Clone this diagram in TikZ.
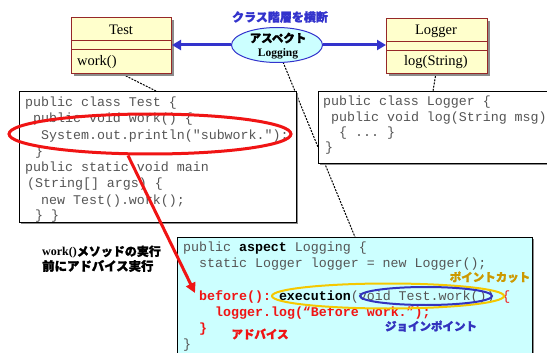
\documentclass[tikz,border=0pt]{standalone}
\usepackage{fontspec}
\setmainfont{Liberation Serif}
\setmonofont{Liberation Mono}
\newfontfamily\jp{Noto Sans CJK JP}[BoldFeatures={FakeBold=1.6}]
\usetikzlibrary{arrows.meta,shapes.geometric}

\definecolor{umlred}{RGB}{150,40,40}
\definecolor{umlfill}{RGB}{255,255,204}
\definecolor{aspblue}{RGB}{51,51,204}
\definecolor{aspfill}{RGB}{204,255,255}
\definecolor{codered}{RGB}{240,20,20}
\definecolor{codegray}{RGB}{85,85,85}
\definecolor{pcyellow}{RGB}{245,200,0}
\definecolor{pcgold}{RGB}{204,153,0}
\definecolor{jpblue}{RGB}{51,51,190}

\begin{document}
\begin{tikzpicture}[x=1pt,y=-1pt,
  umlbox/.style={draw=umlred, fill=umlfill, line width=1pt, inner sep=0pt, anchor=north west},
  umltext/.style={font=\fontsize{14.5}{16}\selectfont, text=black, inner sep=0pt},
  boxshadow/.style={fill=black!45},
  codebox/.style={draw=black, fill=white, line width=0.8pt, inner sep=0pt, anchor=north west},
  codeline/.style={anchor=west, inner sep=0pt, font=\ttfamily\fontsize{13.3}{16}\selectfont, text=codegray},
  jplabel/.style={inner sep=0pt, font=\jp\bfseries\fontsize{11.5}{13}\selectfont},
  link/.style={black, line width=1pt, dash pattern=on 2pt off 1.2pt},
  crosscut/.style={aspblue, line width=3pt, -{Triangle[length=9pt,width=10pt]}},
]
\useasboundingbox (0,0) rectangle (547,353);

% anchor points of the dashed links
\coordinate (workpt) at (120,73);
\coordinate (testtop) at (156,91);
\coordinate (logpt) at (436,73);
\coordinate (loggertop) at (433,91);
\coordinate (asppt) at (283,62);
\coordinate (aspcodetop) at (355,237);

% dashed links (drawn first, the boxes cover their ends)
\draw[link] (workpt) -- (testtop);
\draw[link] (logpt) -- (loggertop);
\draw[link] (asppt) -- (aspcodetop);

% ---- class Test (UML)
\fill[boxshadow] (74,20) rectangle (174,76);
\node[umlbox, minimum width=100pt, minimum height=56pt] (testcls) at (71,17) {};
\draw[umlred, line width=1pt] (71,41) -- (171,41) (71,50) -- (171,50);
\node[umltext] (testname) at (121,30) {Test};
\node[umltext, anchor=west] (testwork) at (77,62) {work()};

% ---- class Logger (UML)
\fill[boxshadow] (389,21) rectangle (490,76);
\node[umlbox, minimum width=101pt, minimum height=55pt] (logcls) at (386,18) {};
\draw[umlred, line width=1pt] (386,42) -- (487,42) (386,51) -- (487,51);
\node[umltext] (logname) at (436,31) {Logger};
\node[umltext] (logmeth) at (436,62) {log(String)};

% ---- aspect ellipse
\node[ellipse, draw=aspblue, fill=aspfill, line width=1pt, minimum width=91pt, minimum height=35pt, inner sep=0pt] (aspect) at (277,45) {};
\node[jplabel, font=\jp\bfseries\fontsize{11.5}{13}\selectfont] (asptitle) at (278,38) {アスペクト};
\node[inner sep=0pt, font=\bfseries\fontsize{11.5}{13}\selectfont] (aspname) at (278,54) {Logging};
\node[jplabel, text=aspblue, font=\jp\bfseries\fontsize{12}{14}\selectfont] (crosstitle) at (280,17) {クラス階層を横断};

\draw[crosscut] (aspect.west) -- (aspect.west -| testcls.east);
\draw[crosscut] (aspect.east) -- (aspect.east -| logcls.west);

% ---- code of Test
\fill[boxshadow] (21,93) rectangle (298,224);
\node[codebox, minimum width=277pt, minimum height=131pt] (testcode) at (19,91) {};
\node[codeline] (t1) at (25,103) {public class Test \{};
\node[codeline] (t2) at (33,119) {public void work() \{};
\node[codeline] (t3) at (41,136) {System.out.println("subwork.");};
\node[codeline] (t4) at (35,152) {\}};
\node[codeline] (t5) at (25,168) {public static void main};
\node[codeline] (t6) at (27,184) {(String[] args) \{};
\node[codeline] (t7) at (41,201) {new Test().work();};
\node[codeline] (t8) at (35,216) {\} \}};

% ---- code of Logger
\fill[boxshadow] (320,93) rectangle (560,165);
\node[codebox, minimum width=240pt, minimum height=72pt] (logcode) at (318,91) {};
\node[codeline] (l1) at (323,102) {public class Logger \{};
\node[codeline] (l2) at (331,118) {public void log(String msg)};
\node[codeline] (l3) at (339,133) {\{ ... \}};
\node[codeline] (l4) at (325,148) {\}};

% ---- code of the aspect
\fill[boxshadow] (179,239) rectangle (534,360);
\node[codebox, fill=aspfill, minimum width=355pt, minimum height=125pt] (aspcode) at (177,237) {};
\node[codeline] (a1) at (183,248) {public \textbf{\color{black}aspect} Logging \{};
\node[codeline] (a2) at (199,264) {static Logger logger = new Logger();};
\node[codeline] (a4) at (199,297) {\textcolor{codered}{\bfseries before():} \textbf{\color{black}execution}(void Test.work()) \textcolor{codered}{\{}};
\node[codeline, text=codered, font=\ttfamily\bfseries\fontsize{13.3}{16}\selectfont] (a5) at (215,313) {logger.log(“Before work.”);};
\node[codeline, text=codered, font=\ttfamily\bfseries\fontsize{13.3}{16}\selectfont] (a6) at (199,329) {\}};
\node[codeline] (a7) at (183,345) {\}};

% pointcut and join point marks
\node[ellipse, draw=pcyellow, line width=2pt, minimum width=232pt, minimum height=25pt, inner sep=0pt] (pointcut) at (388,296) {};
\node[ellipse, draw=jpblue, line width=2pt, minimum width=132pt, minimum height=18pt, inner sep=0pt] (joinpoint) at (426,296) {};
\node[jplabel, text=pcgold] (pclabel) at (490,277) {ポイントカット};
\node[jplabel, text=jpblue] (jplab) at (431,326) {ジョインポイント};
\node[jplabel, text=codered] (advlabel) at (260,334) {アドバイス};

% ---- advice applied before work()
\node[ellipse, draw=codered, line width=3pt, minimum width=282pt, minimum height=40pt, inner sep=0pt] (workmark) at (150,134) {};
\draw[codered, line width=3pt, -{Triangle[length=10pt,width=10pt]}] (workmark.south) ++(-22,0) coordinate (advstart) -- (195,293) coordinate (advtip);

\node[inner sep=0pt, anchor=west, font=\bfseries\fontsize{12}{14}\selectfont] (note1) at (42,252) {work()\jp\fontsize{12}{14}\selectfont メソッドの実行};
\node[inner sep=0pt, anchor=west, font=\jp\bfseries\fontsize{12.4}{14}\selectfont] (note2) at (42,266) {前にアドバイス実行};
\end{tikzpicture}
\end{document}
